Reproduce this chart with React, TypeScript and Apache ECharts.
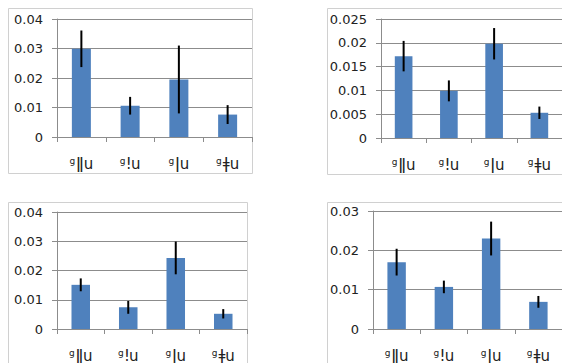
import React, { useEffect, useRef } from "react";
import * as echarts from "echarts";

const categories = ["ǁu", "ǃu", "ǀu", "ǂu"];

const p1Values = [0.0299, 0.0106, 0.0195, 0.0076];
const p1Err = [0.0062, 0.003, 0.0115, 0.0032];
const p2Values = [0.0172, 0.0099, 0.0198, 0.0053];
const p2Err = [0.0032, 0.0022, 0.0033, 0.0013];
const p3Values = [0.0151, 0.0074, 0.0243, 0.0052];
const p3Err = [0.0022, 0.0022, 0.0056, 0.0016];
const p4Values = [0.0170, 0.0107, 0.0230, 0.0069];
const p4Err = [0.0034, 0.0016, 0.0043, 0.0015];

const yMax = [0.04, 0.025, 0.04, 0.03];
const yStep = [0.01, 0.005, 0.01, 0.01];

const FONT = "'DejaVu Sans', 'Liberation Sans', sans-serif";
const BAR = "#4F81BD";
const GRIDC = "#8c8c8c";

export default function App() {
  const ref = useRef<HTMLDivElement>(null);
  useEffect(() => {
    if (!ref.current) return;
    const chart = echarts.init(ref.current, undefined, { renderer: "svg" });
    const panels = [
      { v: p1Values, e: p1Err },
      { v: p2Values, e: p2Err },
      { v: p3Values, e: p3Err },
      { v: p4Values, e: p4Err },
    ];
    const grids = [
      { left: 57, top: 19, width: 195, height: 118 },
      { left: 381, top: 19, width: 185, height: 119 },
      { left: 57, top: 212, width: 190, height: 118 },
      { left: 373, top: 211, width: 192, height: 119 },
    ];
    const xAxis = grids.map((_, i) => ({
      type: "category" as const,
      gridIndex: i,
      data: categories,
      axisLine: { lineStyle: { color: GRIDC, width: 1 } },
      axisTick: { show: true, length: 5, lineStyle: { color: GRIDC } },
      axisLabel: {
        interval: 0,
        hideOverlap: false,
        margin: 19,
        formatter: (v: string) => `{sup|g}{main|${v}}`,
        rich: {
          sup: { fontSize: 9, fontFamily: FONT, color: "#222", verticalAlign: "top" as const, padding: [0, 1, 5, 0] },
          main: { fontSize: 15, fontFamily: FONT, color: "#222" },
        },
      },
    }));
    const yAxis = grids.map((_, i) => ({
      type: "value" as const,
      gridIndex: i,
      min: 0,
      max: yMax[i],
      interval: yStep[i],
      axisLine: { show: true, lineStyle: { color: GRIDC, width: 1 } },
      axisTick: { show: true, length: 5, lineStyle: { color: GRIDC } },
      splitLine: { lineStyle: { color: GRIDC, width: 1 } },
      axisLabel: { margin: 14, fontSize: 13, fontFamily: FONT, color: "#222" },
    }));
    const series: any[] = [];
    panels.forEach((p, i) => {
      series.push({
        type: "bar",
        xAxisIndex: i,
        yAxisIndex: i,
        data: p.v,
        barWidth: "39%",
        itemStyle: { color: BAR },
      });
      series.push({
        type: "custom",
        xAxisIndex: i,
        yAxisIndex: i,
        encode: { x: 0, y: [1, 2] },
        data: p.v.map((v, k) => [k, v - p.e[k], v + p.e[k]]),
        renderItem: (_params: any, api: any) => {
          const x = api.value(0);
          const lo = api.coord([x, api.value(1)]);
          const hi = api.coord([x, api.value(2)]);
          return {
            type: "line",
            shape: { x1: lo[0], y1: lo[1], x2: hi[0], y2: hi[1] },
            style: { stroke: "#000", lineWidth: 2 },
          };
        },
        z: 5,
      });
    });
    const frame = (x: number, y: number, w: number, h: number) => ({
      type: "rect",
      shape: { x, y, width: w, height: h },
      style: { fill: "none", stroke: "#d0d0d0", lineWidth: 1 },
      silent: true,
    });
    chart.setOption({
      animation: false,
      backgroundColor: "#fff",
      grid: grids,
      xAxis,
      yAxis,
      series,
      graphic: [
        frame(8.5, 8.5, 244, 165),
        frame(327.5, 8.5, 260, 166),
        frame(8.5, 202.5, 239, 180),
        frame(327.5, 202.5, 260, 180),
      ],
    });
    return () => chart.dispose();
  }, []);
  return (
    <div
      ref={ref}
      style={{ position: "fixed", left: 0, top: 0, width: 562, height: 363 }}
    />
  );
}
